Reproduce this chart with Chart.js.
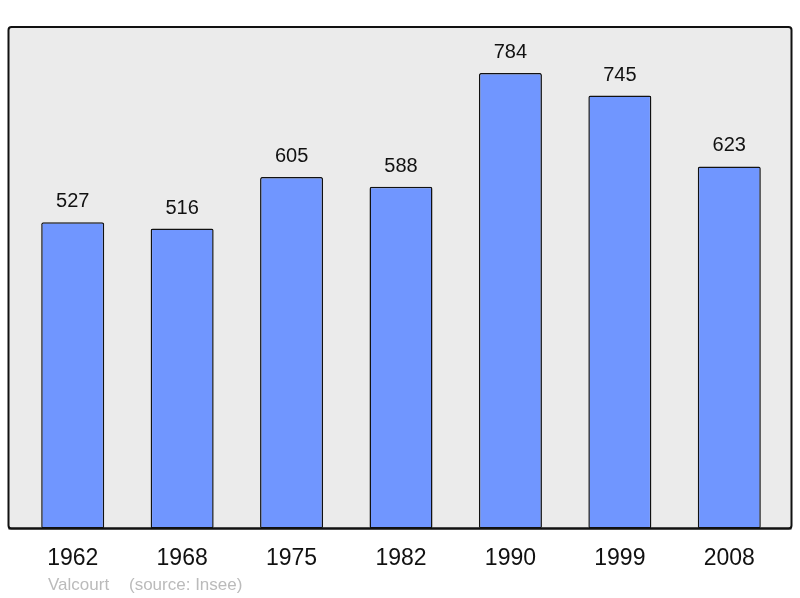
<!DOCTYPE html>
<html>
<head>
<meta charset="utf-8">
<script src="https://cdn.jsdelivr.net/npm/chart.js@4/dist/chart.umd.min.js"></script>
<style>
  html, body { margin: 0; padding: 0; background: #fff; }
  #wrap { width: 800px; height: 598px; }
</style>
</head>
<body>
<div id="wrap"><canvas id="grafico"></canvas></div>
<script>
// dati
let anni = ["1962", "1968", "1975", "1982", "1990", "1999", "2008"]
let abitanti = [527, 516, 605, 588, 784, 745, 623]
let yMax = 863
let nomeComune = "Valcourt"
let fonte = "(source: Insee)"

// riquadro grigio dietro le barre
let sfondo = {
    id: "sfondo",
    beforeDraw(chart) {
        let ctx = chart.ctx
        let a = chart.chartArea
        let x0 = a.left - 9.5, x1 = a.right + 7.5
        let y0 = a.top, y1 = a.bottom
        ctx.save()
        ctx.beginPath()
        ctx.roundRect(x0, y0, x1 - x0, y1 - y0, 3)
        ctx.fillStyle = "#ebebeb"
        ctx.fill()
        ctx.lineWidth = 2
        ctx.strokeStyle = "#111"
        ctx.stroke()
        ctx.restore()
    },
    afterDraw(chart) {
        let ctx = chart.ctx
        let a = chart.chartArea
        ctx.save()
        // riga in basso di nuovo sopra le barre
        ctx.beginPath()
        ctx.moveTo(a.left - 9.5, a.bottom)
        ctx.lineTo(a.right + 7.5, a.bottom)
        ctx.lineWidth = 2
        ctx.strokeStyle = "#111"
        ctx.stroke()
        // valori sopra le barre
        ctx.fillStyle = "#111"
        ctx.font = "20px 'Liberation Sans', Arial, sans-serif"
        ctx.textAlign = "center"
        ctx.textBaseline = "alphabetic"
        let meta = chart.getDatasetMeta(0)
        meta.data.forEach((bar, i) => {
            ctx.fillText(abitanti[i], bar.x, bar.y - 15)
        })
        // nota in fondo
        ctx.fillStyle = "#bbbbbb"
        ctx.font = "17px 'Liberation Sans', Arial, sans-serif"
        ctx.textAlign = "left"
        ctx.fillText(nomeComune, 48, 590)
        ctx.fillText(fonte, 129, 590)
        ctx.restore()
    }
}

window.onload = () => {
    let canvas = document.getElementById("grafico").getContext("2d")
    new Chart(canvas, {
        type: "bar",
        data: {
            labels: anni,
            datasets: [{
                data: abitanti,
                backgroundColor: "#7096ff",
                borderColor: "#111",
                borderWidth: 1.5,
                borderRadius: 2,
                borderSkipped: false,
                categoryPercentage: 1,
                barPercentage: 0.576
            }]
        },
        options: {
            responsive: true,
            maintainAspectRatio: false,
            animation: false,
            layout: { padding: { left: 18, right: 16, top: 27, bottom: 18 } },
            plugins: {
                legend: { display: false },
                tooltip: { enabled: false }
            },
            scales: {
                x: {
                    grid: { display: false },
                    border: { display: false },
                    ticks: {
                        color: "#111",
                        padding: 8,
                        font: { family: "'Liberation Sans', Arial, sans-serif", size: 23 }
                    }
                },
                y: {
                    display: false,
                    min: 0,
                    max: yMax
                }
            }
        },
        plugins: [sfondo]
    })
}
</script>
</body>
</html>
